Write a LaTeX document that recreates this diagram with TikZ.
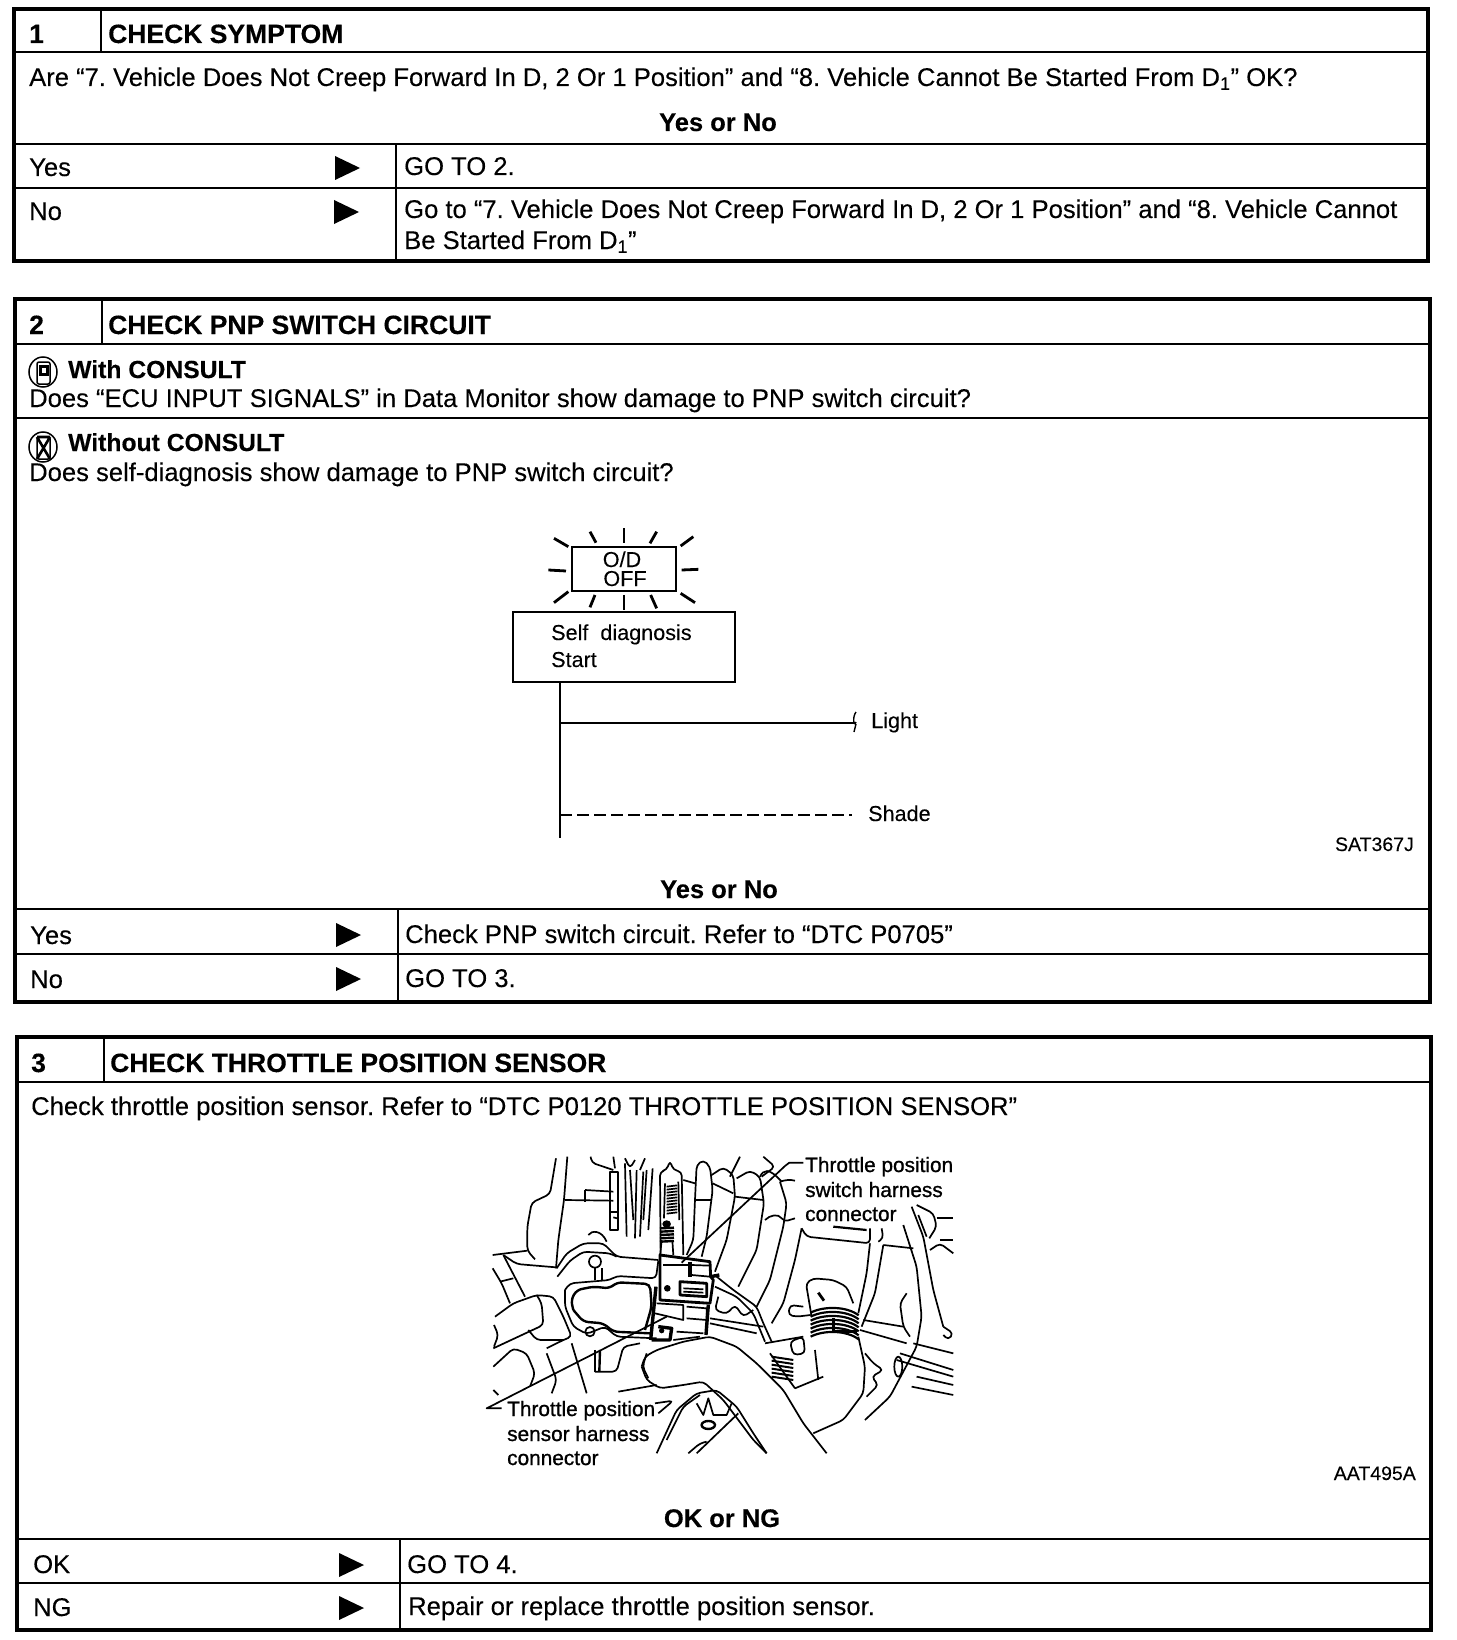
\documentclass[tikz,border=0pt]{standalone}
\usepackage{fontspec}
\setmainfont{Liberation Sans}[BoldFeatures={FakeBold=0.25}]
\newfontfamily\bodyfont[FakeBold=0.15]{Liberation Sans}
\newfontfamily\heavyfont[FakeBold=1.0]{Liberation Sans}
\frenchspacing
\usetikzlibrary{positioning}
\tikzset{
  frameline/.style={line width=3.4pt},
  rowline/.style={line width=2.6pt},
  thinline/.style={line width=1.5pt},
  headtext/.style={anchor=base west, inner sep=0pt, font=\fontsize{26.5}{30}\selectfont\bfseries},
  subtext/.style={anchor=base west, inner sep=0pt, font=\fontsize{24.7}{28}\selectfont\bfseries},
  bodytext/.style={anchor=base west, inner sep=0pt, font=\fontsize{25.6}{28}\selectfont\bodyfont},
  asktext/.style={anchor=base, inner sep=0pt, font=\fontsize{25.5}{28}\selectfont\bfseries},
  codetext/.style={anchor=base east, inner sep=0pt, font=\fontsize{19.5}{22}\selectfont\bodyfont},
  lamptext/.style={anchor=base, inner sep=0pt, font=\fontsize{21.6}{24}\selectfont\bodyfont},
  calltext/.style={anchor=base west, inner sep=0pt, font=\fontsize{20.8}{24}\selectfont\heavyfont},
  sharpart/.style={line width=1.7pt, line join=round},
  art/.style={line width=1.7pt, line join=round, rounded corners=4pt},
  darkart/.style={line width=3.4pt, line join=round},
}
\newcommand{\rowarrow}[2]{\fill (#1,#2) ++(0,-12) -- ++(25,12) -- ++(-25,12) -- cycle;}

\begin{document}
\begin{tikzpicture}[x=1pt,y=-1pt]
\useasboundingbox (0,0) rectangle (1456,1640);

% box 1
\draw[frameline] (14,9) rectangle (1428,261);
\draw[rowline] (14,52) -- (1428,52);
\draw[rowline] (14,144) -- (1428,144);
\draw[rowline] (14,188) -- (1428,188);
\draw[thinline] (101,9) -- (101,52);
\draw[thinline] (396,144) -- (396,261);
\node[headtext] (numa) at (29,43) {1};
\node[headtext] (heada) at (108,43) {CHECK SYMPTOM};
\node[bodytext] (aska) at (29,86) {Are “7. Vehicle Does Not Creep Forward In D, 2 Or 1 Position” and “8. Vehicle Cannot Be Started From D\textsubscript{1}” OK?};
\node[asktext] (yesnoa) at (718,131) {Yes or No};
\node[bodytext] (yesa) at (29,176) {Yes};
\rowarrow{335}{168}
\node[bodytext] (gotoa) at (404,175) {GO TO 2.};
\node[bodytext] (noa) at (29,220) {No};
\rowarrow{334}{212}
\node[bodytext] (goa) at (404,218) {Go to “7. Vehicle Does Not Creep Forward In D, 2 Or 1 Position” and “8. Vehicle Cannot};
\node[bodytext] (gob) at (404,249) {Be Started From D\textsubscript{1}”};

% box 2
\draw[frameline] (15,299) rectangle (1430,1002);
\draw[rowline] (15,344) -- (1430,344);
\draw[rowline] (15,418) -- (1430,418);
\draw[rowline] (15,909) -- (1430,909);
\draw[rowline] (15,954) -- (1430,954);
\draw[thinline] (102,299) -- (102,344);
\draw[thinline] (398,909) -- (398,1002);
\node[headtext] (numb) at (29,334) {2};
\node[headtext] (headb) at (108,334) {CHECK PNP SWITCH CIRCUIT};
% consult marks
\draw[thinline] (43,372) ellipse (14 and 15);
\draw[thinline, rounded corners=2pt] (37,362) rectangle (50,384);
\fill (39,365) rectangle (49,376);
\fill[white] (42,368) rectangle (46,373);
\draw[thinline] (43,447) ellipse (14 and 15);
\draw[thinline, rounded corners=2pt] (37,437) rectangle (50,459);
\draw[line width=2.6pt] (37,437) -- (50,459) (50,437) -- (37,459) (37,437) -- (50,437);
\node[subtext] (witha) at (68,378) {With CONSULT};
\node[bodytext] (askb) at (29,407) {Does “ECU INPUT SIGNALS” in Data Monitor show damage to PNP switch circuit?};
\node[subtext] (withouta) at (68,451) {Without CONSULT};
\node[bodytext] (askc) at (29,481) {Does self-diagnosis show damage to PNP switch circuit?};
% lamp
\node[draw, line width=2.4pt, minimum width=104pt, minimum height=44pt, inner sep=0pt] (lamp) at (624,569) {};
\node[lamptext] (lampa) at (622,567) {O/D};
\node[lamptext] (lampb) at (625,586) {OFF};
\begin{scope}[shift={(480,510)},x=0.3333pt,y=-0.3333pt]
\foreach \xa/\ya/\xb/\yb in {222/85/265/110,330/65/348/98,432/55/432/100,530/65/510/100,640/80/602/108,205/180/258/183,605/180/655/178,222/278/265/245,345/255/330/292,432/255/432/300,512/255/530/295,602/250/645/278}
  \draw[line width=2.8pt] (\xa,\ya) -- (\xb,\yb);
\end{scope}
\node[draw, line width=1.8pt, minimum width=222pt, minimum height=70pt, inner sep=0pt] (selfdiag) at (624,647) {};
\node[lamptext, anchor=base west] (selfa) at (551,640) {Self\ \ diagnosis};
\node[lamptext, anchor=base west] (selfb) at (551,667) {Start};
\coordinate (stemtop) at (560,682);
\coordinate (stembot) at (560,838);
\coordinate (lightjoin) at (560,723);
\coordinate (lightend) at (855,723);
\coordinate (shadejoin) at (560,815);
\coordinate (shadeend) at (852,815);
\draw[line width=2.4pt] (stemtop) -- (stembot);
\draw[line width=2.4pt] (lightjoin) -- (lightend);
\draw[line width=2.4pt, dash pattern=on 12pt off 5pt] (shadejoin) -- (shadeend);
\draw[line width=1.4pt] (lightend) ++(1,-11) .. controls ++(-4,5) and ++(-2,6) .. ++(0,10) ++(0,2) -- ++(-2,8);
\node[lamptext, anchor=base west] (light) at (871,728) {Light};
\node[lamptext, anchor=base west] (shade) at (868,821) {Shade};
\node[codetext] (sat) at (1414,851) {SAT367J};
\node[asktext] (yesnob) at (719,898) {Yes or No};
\node[bodytext] (yesb) at (30,944) {Yes};
\rowarrow{336}{935}
\node[bodytext] (gotob) at (405,943) {Check PNP switch circuit. Refer to “DTC P0705”};
\node[bodytext] (nob) at (30,988) {No};
\rowarrow{336}{979}
\node[bodytext] (gotoc) at (405,987) {GO TO 3.};

% box 3
\draw[frameline] (17,1037) rectangle (1431,1630);
\draw[rowline] (17,1082) -- (1431,1082);
\draw[rowline] (17,1539) -- (1431,1539);
\draw[rowline] (17,1583) -- (1431,1583);
\draw[thinline] (104,1037) -- (104,1082);
\draw[thinline] (400,1539) -- (400,1630);
\node[headtext] (numc) at (31,1072) {3};
\node[headtext] (headc) at (110,1072) {CHECK THROTTLE POSITION SENSOR};
\node[bodytext] (askd) at (31,1115) {Check throttle position sensor. Refer to “DTC P0120 THROTTLE POSITION SENSOR”};

% engine sketch
\begin{scope}[shift={(470,1140)},x=0.3333pt,y=-0.3333pt]
% upper left
\draw[art] (258,55) -- (240,162) -- (185,188) -- (172,260) -- (172,332) -- (195,358);
\draw[art] (292,50) -- (282,180) -- (265,300) -- (258,385);
\draw[art] (68,345) -- (172,332);
\draw[art] (100,345) -- (140,372) -- (258,382);
\draw[art] (68,385) -- (95,430) -- (120,490);
\draw[art] (100,345) -- (165,470);
\draw[art] (90,425) -- (130,415);
\draw[art] (362,50) -- (365,68) -- (430,90);
\draw[art] (430,50) -- (435,85);
\draw[art] (465,55) -- (480,85) -- (495,60);
\draw[art] (525,55) -- (510,90);
\draw[sharpart] (285,180) -- (430,182);
\draw[sharpart] (345,150) -- (430,155);
\draw[sharpart] (345,150) -- (345,185);
\draw[sharpart] (420,95) -- (445,95) -- (445,270) -- (420,270) -- cycle;
\draw[sharpart] (420,215) -- (445,215);
\draw[sharpart] (430,232) -- (445,236);
\draw[sharpart] (465,70) -- (470,290);
\draw[sharpart] (480,90) -- (490,240);
\draw[sharpart] (500,90) -- (495,295);
\draw[sharpart] (520,95) -- (510,290);
\draw[sharpart] (530,90) -- (520,240);
\draw[sharpart] (548,85) -- (535,270);
% spring column
\draw[art] (572,345) -- (570,95) -- (590,90) -- (600,62) -- (610,90) -- (635,95) -- (640,345);
\foreach \ya in {140,149,...,228}
  \draw[line width=1.7pt] (590,\ya) -- (622,\ya-4);
\draw[sharpart] (585,130) -- (582,235);
\draw[sharpart] (625,125) -- (628,240);
\fill (590,252) ellipse (13 and 11);
\foreach \ya in {265,275,...,305}
  \draw[line width=2.4pt] (570,\ya) -- (612,\ya-2);
\draw[sharpart] (575,300) -- (570,350);
\draw[sharpart] (607,300) -- (610,345);
% duct
\draw[art] (640,120) -- (675,130);
\draw[art] (675,180) -- (680,75) -- (700,60) -- (720,80) -- (728,150) -- (710,290) -- (695,350);
\draw[art] (675,180) -- (670,300) -- (650,345);
\draw[art] (675,180) -- (722,180);
\draw[art] (725,105) -- (760,82) -- (790,105) -- (795,170) -- (770,300) -- (735,395);
\draw[art] (728,130) -- (790,160);
\draw[art] (810,50) -- (780,110);
\draw[art] (800,115) -- (840,92) -- (870,110) -- (882,190) -- (860,330) -- (805,440);
\draw[art] (795,170) -- (880,180);
\draw[art] (880,50) -- (915,80) -- (875,110);
\draw[art] (930,125) -- (950,190) -- (940,260) -- (900,420) -- (860,500);
\draw[art] (930,125) .. controls (945,120) and (960,118) .. (975,122);
\draw[art] (885,240) .. controls (900,225) and (925,220) .. (942,245) -- (975,235);
\draw[art] (870,110) .. controls (880,90) and (895,80) .. (935,125);
% callout lines
\draw[sharpart] (635,368) -- (945,78) -- (958,68) -- (1000,68);
\draw[sharpart] (590,530) -- (50,805) -- (95,805);
% throttle body
\draw[art] (260,385) -- (290,340) -- (340,310) -- (400,310) -- (440,350) -- (565,360);
\draw[art] (262,410) -- (300,362) -- (340,335) -- (420,340) -- (440,350);
\draw[art] (355,285) .. controls (365,270) and (395,270) .. (410,305);
\draw[sharpart] (375,365) circle (18);
\draw[sharpart] (375,385) -- (375,420);
\draw[sharpart] (395,385) -- (395,420);
\draw[line width=2.4pt, rounded corners=5pt] (310,510) -- (303,480) -- (320,450) -- (370,440) -- (420,445) -- (440,427) -- (540,432) -- (545,500) -- (525,570);
\draw[line width=2.4pt, rounded corners=5pt] (310,510) -- (340,545) -- (400,550) -- (430,575) -- (540,580);
\draw[art] (285,450) -- (300,430) -- (420,420) -- (440,408) -- (558,415) -- (565,362);
\draw[art] (285,450) -- (285,500) -- (310,560) -- (350,582) -- (405,560) -- (440,590) -- (560,595);
\draw[sharpart] (360,575) circle (14);
% connectors
\draw[line width=2.8pt, line join=round] (570,345) -- (720,365) -- (722,410) -- (730,420) -- (720,490) -- (570,480) -- cycle;
\draw[sharpart] (580,375) -- (660,375);
\draw[sharpart] (665,375) -- (720,377);
\draw[sharpart] (665,405) -- (720,410);
\draw[darkart] (660,365) -- (660,412);
\fill (592,445) circle (10);
\draw[line width=2.8pt, line join=round] (630,425) -- (710,430) -- (710,470) -- (630,465) -- cycle;
\draw[sharpart] (640,445) -- (700,448);
\draw[sharpart] (640,455) -- (700,458);
\draw[darkart] (558,440) -- (542,600);
\draw[darkart] (722,410) -- (748,405);
\draw[sharpart] (560,490) -- (640,495) -- (640,540) -- (555,520);
\draw[sharpart] (650,500) -- (710,505) -- (710,570);
\draw[sharpart] (650,535) -- (710,540);
\draw[darkart] (715,495) -- (708,585);
\draw[darkart] (545,600) -- (600,600) -- (605,565) -- (565,560);
\fill (575,572) circle (8);
\draw[sharpart] (620,575) -- (700,580);
\draw[sharpart] (610,600) -- (690,590);
% big hose
\draw[art] (515,680) -- (525,650) -- (560,630) -- (640,605) -- (720,590) -- (800,620) -- (860,670) -- (940,750) -- (1000,850) -- (1070,940);
\draw[art] (530,640) -- (518,680) -- (535,715);
\draw[art] (515,680) -- (530,720) -- (570,745) -- (640,735) -- (700,725) -- (760,780) -- (820,860) -- (850,900) -- (890,940);
\draw[sharpart] (445,755) -- (560,735);
% left hose
\draw[art] (75,530) -- (130,490) -- (200,465) -- (250,470) -- (280,530) -- (305,590) -- (280,600) -- (230,625);
\draw[art] (70,625) -- (220,555) -- (215,490) -- (200,465);
\draw[art] (72,555) -- (85,585) -- (72,620);
\draw[art] (175,570) -- (200,600) -- (280,600);
% lower left
\draw[art] (70,680) -- (130,625) -- (170,640) -- (195,700) -- (180,740);
\draw[art] (230,640) -- (260,720) -- (245,760);
\draw[sharpart] (305,610) -- (350,760);
\draw[line width=2.4pt] (375,630) -- (375,695);
\draw[line width=2.4pt] (390,630) -- (388,695);
\draw[art] (375,695) -- (440,695) -- (460,620) -- (510,610);
\draw[sharpart] (70,750) -- (85,765);
% bottom middle
\draw[art] (565,820) -- (610,782) -- (555,790);
\draw[art] (560,940) -- (620,810) -- (680,760) -- (740,750) -- (800,800) -- (850,880) -- (890,940);
\draw[art] (590,900) -- (640,800) -- (690,765);
\draw[sharpart] (680,790) -- (700,825) -- (715,775) -- (730,825) -- (770,825) -- (785,790);
\draw[line width=2.4pt] (715,855) ellipse (20 and 12);
\draw[sharpart] (680,940) -- (805,820);
\draw[art] (655,940) -- (690,910) -- (710,905);
% pipe by the connectors
\draw[art] (740,410) -- (790,450) -- (860,500) -- (880,550) -- (905,605);
\draw[art] (735,440) -- (800,470) -- (850,520) -- (885,605);
\draw[art] (745,470) -- (735,510) -- (770,522) -- (795,495) -- (820,530) -- (850,510);
\draw[sharpart] (720,535) -- (880,560);
\draw[sharpart] (720,550) -- (860,580);
% coil
\draw[sharpart] (885,610) -- (1000,590);
\foreach \ya in {650,662,...,710}
  \draw[line width=2pt] (905,\ya) -- (970,\ya+10);
\draw[sharpart] (900,640) -- (975,745);
\draw[art] (960,605) -- (1000,590) -- (1005,640) -- (970,645) -- cycle;
\draw[sharpart] (975,745) -- (1060,710);
% centre hose
\draw[art] (995,265) -- (975,360) -- (940,490) -- (905,550);
\draw[art] (995,265) -- (1010,290) -- (1200,310) -- (1200,265);
\draw[line width=2.2pt] (1090,260) -- (1190,270);
\draw[art] (1200,310) -- (1190,400) -- (1165,520);
\draw[art] (1240,315) -- (1215,460) -- (1175,560);
\draw[art] (1235,265) -- (1240,295) -- (1225,305);
\draw[sharpart] (1240,315) -- (1330,325);
\draw[art] (1025,530) -- (1008,430) -- (1030,415) -- (1090,420) -- (1130,440) -- (1150,490);
\draw[line width=2.8pt] (1045,458) -- (1062,482);
\foreach \ya in {510,522,...,582}
  \draw[line width=2.2pt] (1022,\ya+8) .. controls (1060,\ya-12) and (1130,\ya-12) .. (1166,\ya+16);
\draw[darkart] (1090,535) -- (1090,575) -- (1160,575);
\draw[sharpart] (1035,630) -- (1045,720);
\draw[art] (1165,590) -- (1185,680) -- (1180,760) -- (1120,840) -- (1030,880);
\draw[art] (1000,500) -- (960,495) -- (955,525) -- (980,530) -- (1022,525);
% right side
\draw[art] (1300,255) -- (1340,380) -- (1355,530) -- (1340,620) -- (1260,770) -- (1185,840);
\draw[art] (1325,200) -- (1360,290) -- (1390,450) -- (1420,560);
\draw[art] (1340,195) -- (1390,220) -- (1400,260) -- (1378,295);
\draw[sharpart] (1345,225) -- (1370,290);
\draw[sharpart] (1400,235) -- (1450,235);
\draw[sharpart] (1410,300) -- (1450,300);
\draw[art] (1380,330) -- (1410,310) -- (1450,340);
\draw[sharpart] (1180,540) -- (1300,560);
\draw[sharpart] (1170,570) -- (1310,610);
\draw[sharpart] (1330,610) -- (1450,640);
\draw[art] (1310,460) -- (1290,490) -- (1300,560) -- (1320,590);
\draw[sharpart] (1290,640) -- (1450,690);
\draw[sharpart] (1280,660) -- (1450,710);
\draw[sharpart] (1285,680) ellipse (12 and 30);
\draw[sharpart] (1340,710) -- (1450,735);
\draw[sharpart] (1325,740) -- (1450,765);
\draw[art] (1185,640) -- (1210,670) -- (1240,690) -- (1205,710) -- (1225,735) -- (1190,770);
\draw[art] (1420,560) -- (1450,580) -- (1435,600) -- (1420,585);
\end{scope}
\node[calltext] (calla) at (805,1172) {Throttle position};
\node[calltext] (callb) at (805,1197) {switch harness};
\node[calltext] (callc) at (805,1221) {connector};
\node[calltext] (calld) at (507,1416) {Throttle position};
\node[calltext] (calle) at (507,1441) {sensor harness};
\node[calltext] (callf) at (507,1465) {connector};
\node[codetext] (aat) at (1416,1480) {AAT495A};
\node[asktext] (oknga) at (722,1527) {OK or NG};
\node[bodytext] (okb) at (33,1573) {OK};
\rowarrow{339}{1565}
\node[bodytext] (gotod) at (407,1573) {GO TO 4.};
\node[bodytext] (ngb) at (33,1616) {NG};
\rowarrow{339}{1608}
\node[bodytext] (repair) at (408,1615) {Repair or replace throttle position sensor.};
\end{tikzpicture}
\end{document}
